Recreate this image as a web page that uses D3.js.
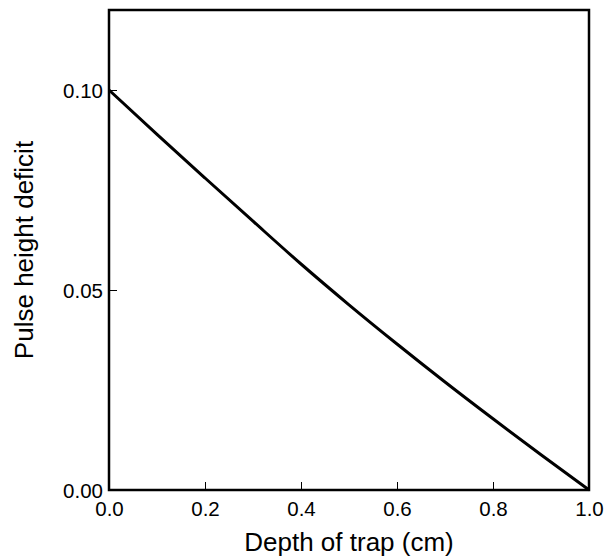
<!DOCTYPE html>
<html>
<head>
<meta charset="utf-8">
<script src="https://cdn.jsdelivr.net/npm/d3@7"></script>
<style>
	body { margin: 0; background: #fff; }
	text { font-family: "Liberation Sans", Arial, sans-serif; fill: #000; }
</style>
</head>
<body>
<script>
// values
var depth   = [0.0, 0.1, 0.2, 0.3, 0.4, 0.5, 0.6, 0.7, 0.8, 0.9, 1.0];
var deficit = [0.100, 0.0889, 0.078, 0.0672, 0.0565, 0.0463, 0.0365, 0.0270, 0.0178, 0.0088, 0.0];
var xTicks  = [0, 0.2, 0.4, 0.6, 0.8, 1.0];
var yTicks  = [0, 0.05, 0.10];

var width = 608, height = 560;
var margin = {left: 109, right: 19, top: 10, bottom: 70};

var svg = d3.select("body").append("svg")
	.attr("width", width)
	.attr("height", height);

var x = d3.scaleLinear().domain([0, 1]).range([margin.left, width - margin.right]);
var y = d3.scaleLinear().domain([0, 0.12]).range([height - margin.bottom, margin.top]);

//inward ticks
var xAxis = svg.append("g")
	.attr("transform", "translate(0," + y(0) + ")")
	.call(d3.axisBottom(x).tickValues(xTicks).tickSize(-8).tickFormat(d3.format(".1f")));
var yAxis = svg.append("g")
	.attr("transform", "translate(" + x(0) + ",0)")
	.call(d3.axisLeft(y).tickValues(yTicks).tickSize(-8).tickPadding(6).tickFormat(d3.format(".2f")));

[xAxis, yAxis].forEach(function(a){
	a.select(".domain").remove();
	a.selectAll("line").attr("stroke", "#000").attr("stroke-width", 1);
	a.selectAll("text").style("font-size", "20.5px").attr("font-family", null);
});
xAxis.selectAll("text").attr("dy", null).attr("y", 26);
yAxis.selectAll("text").attr("dy", "0.36em");

// frame
svg.append("rect")
	.attr("x", x(0)).attr("y", y(0.12))
	.attr("width", x(1) - x(0)).attr("height", y(0) - y(0.12))
	.attr("fill", "none").attr("stroke", "#000").attr("stroke-width", 2.5);

var line = d3.line()
	.curve(d3.curveMonotoneX)
	.x(function(d, i){ return x(depth[i]); })
	.y(function(d){ return y(d); });

svg.append("path")
	.datum(deficit)
	.attr("fill", "none")
	.attr("stroke", "#000")
	.attr("stroke-width", 3)
	.attr("d", line);

svg.append("text")
	.attr("x", (x(0) + x(1))/2)
	.attr("y", 551)
	.attr("text-anchor", "middle")
	.style("font-size", "26px")
	.text("Depth of trap (cm)");

svg.append("text")
	.attr("transform", "translate(33," + (y(0) + y(0.12))/2 + ")rotate(-90)")
	.attr("text-anchor", "middle")
	.style("font-size", "26px")
	.text("Pulse height deficit");
</script>
</body>
</html>
